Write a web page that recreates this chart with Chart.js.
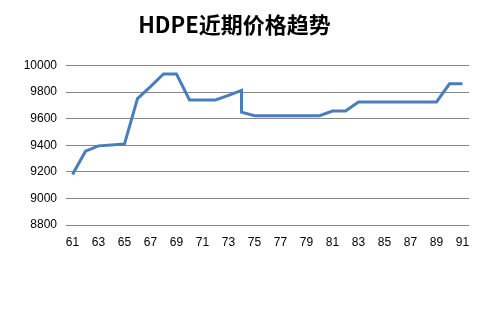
<!DOCTYPE html>
<html>
<head>
<meta charset="utf-8">
<script src="https://cdn.jsdelivr.net/npm/chart.js@4/dist/chart.umd.min.js"></script>
<style>
    html, body { margin: 0; padding: 0; background: #fff; }
    #wrap { width: 480px; height: 315px; }
</style>
</head>
<body>
<div id="wrap"><canvas id="c" width="480" height="315"></canvas></div>
<script>
// --- データ ---
const titleText = 'HDPE近期价格趋势';
const xValues = [61, 62, 63, 64, 65, 66, 67, 68, 69, 70, 71, 72, 73, 74, 74, 75, 76, 77, 78, 79, 80, 81, 82, 83, 84, 85, 86, 87, 88, 89, 90, 91];
const prices  = [9180, 9355, 9395, 9402, 9410, 9750, 9840, 9935, 9935, 9740, 9740, 9740, 9775, 9812, 9648, 9622, 9622, 9622, 9622, 9622, 9622, 9657, 9657, 9725, 9725, 9725, 9725, 9725, 9725, 9725, 9862, 9862];
const xTickLabels = [61, 63, 65, 67, 69, 71, 73, 75, 77, 79, 81, 83, 85, 87, 89, 91];
const yTickLabels = [8800, 9000, 9200, 9400, 9600, 9800, 10000];

const LINE_COLOR = '#4a7ebb';
const GRID_COLOR = '#868686';
const tickFont = { family: "'Liberation Sans', Arial, sans-serif", size: 12 };

const points = xValues.map((x, i) => ({ x, y: prices[i] }));

new Chart(document.getElementById('c').getContext('2d'), {
    type: 'line',
    data: {
        datasets: [{
            label: 'HDPE',
            data: points,
            borderColor: LINE_COLOR,
            backgroundColor: LINE_COLOR,
            borderWidth: 3,
            pointRadius: 0,
            tension: 0,
            fill: false
        }]
    },
    options: {
        responsive: false,
        animation: false,
        layout: { padding: { left: 0, right: 11, top: 0, bottom: 0 } },
        plugins: {
            legend: { display: false },
            tooltip: { enabled: false },
            title: {
                display: true,
                text: titleText,
                color: '#000',
                font: { family: "'Noto Sans CJK SC', 'Liberation Sans', sans-serif", size: 22, weight: 'bold' },
                padding: { top: 11, bottom: 28 }
            }
        },
        scales: {
            x: {
                type: 'linear',
                min: 60.5,
                max: 91.5,
                afterBuildTicks: s => { s.ticks = xTickLabels.map(v => ({ value: v })); },
                afterFit: s => { s.height = 90; },
                grid: { display: false, drawTicks: false },
                border: { display: false },
                ticks: { color: '#000', font: tickFont, padding: 10, autoSkip: false, maxRotation: 0, callback: v => String(v) }
            },
            y: {
                min: yTickLabels[0],
                max: yTickLabels[yTickLabels.length - 1],
                afterBuildTicks: s => { s.ticks = yTickLabels.map(v => ({ value: v })); },
                afterFit: s => { s.width = 66; },
                grid: { color: GRID_COLOR, lineWidth: 1, drawTicks: false },
                border: { display: false },
                ticks: { color: '#000', font: tickFont, padding: 9, callback: v => String(v) }
            }
        }
    }
});
</script>
</body>
</html>
